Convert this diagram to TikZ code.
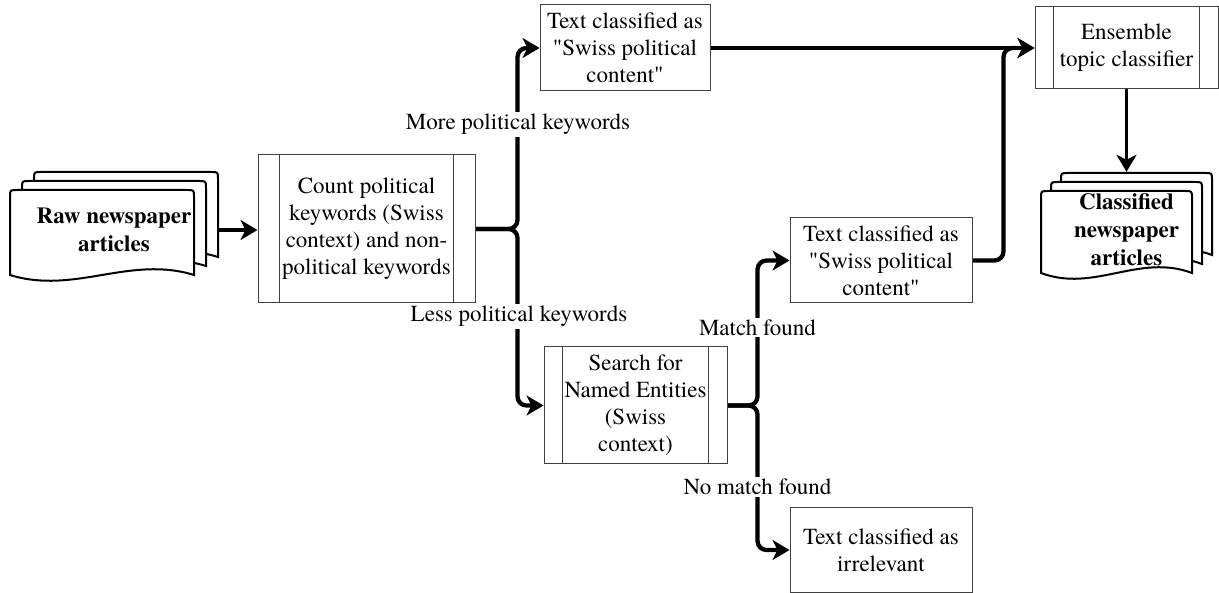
\documentclass[tikz,border=0pt]{standalone}
\usepackage{fontspec}
\setmainfont{texgyretermes}[Extension=.otf, UprightFont=*-regular, BoldFont=*-bold, ItalicFont=*-italic, BoldItalicFont=*-bolditalic]
\newfontfamily\tnr{texgyretermes}[Extension=.otf, UprightFont=*-regular, BoldFont=*-bold, ItalicFont=*-italic, BoldItalicFont=*-bolditalic]
\usetikzlibrary{arrows.meta,calc}
\pgfdeclarelayer{bg}
\pgfdeclarelayer{mid}
\pgfsetlayers{bg,mid,main}
\tikzset{
 box/.style={draw=black!75, line width=1pt, fill=white, inner sep=0pt, align=center, font=\tnr\fontsize{23}{27}\selectfont},
 proc/.style={box, path picture={\draw[black!75, line width=1pt]
   ($(path picture bounding box.north west)!0.1!(path picture bounding box.north east)$) -- ($(path picture bounding box.south west)!0.1!(path picture bounding box.south east)$)
   ($(path picture bounding box.north west)!0.9!(path picture bounding box.north east)$) -- ($(path picture bounding box.south west)!0.9!(path picture bounding box.south east)$);}},
 conn/.style={line width=4.3pt, rounded corners=9pt, -{Stealth[length=17pt,width=20pt,inset=5pt]}},
 lbl/.style={fill=white, inner xsep=1pt, inner ysep=2pt, font=\tnr\fontsize{23}{27}\selectfont},
 docline/.style={draw=black, line width=2pt, fill=white},
 doctext/.style={font=\tnr\fontsize{23}{28}\selectfont\bfseries, align=center, inner sep=0pt},
}
\newcommand\docshp[4]{%
 \draw[docline] ({#1},{#2+#4}) -- ({#1},{#2+7}) .. controls ({#1},{#2}) .. ({#1+7},{#2})
  -- ({#1+#3-7},{#2}) .. controls ({#1+#3},{#2}) .. ({#1+#3},{#2+7})
  -- ({#1+#3},{#2+#4}) .. controls ({#1+0.65*#3},{#2+#4-20}) and ({#1+0.35*#3},{#2+#4+20}) .. ({#1},{#2+#4}) -- cycle;}
\begin{document}
\begin{tikzpicture}[x=1pt,y=-1pt]
\useasboundingbox (0,0) rectangle (1219,593);
% documents
\docshp{34}{172}{184}{85}
\docshp{22}{181}{184}{85}
\docshp{10}{190}{184}{85}
\docshp{1061}{173}{151}{82}
\docshp{1051}{182}{151}{82}
\docshp{1041}{191}{151}{82}
\node[doctext, minimum width=208pt, minimum height=116pt] (raw) at (114,230) {Raw newspaper\\articles};
\node[doctext, minimum width=171pt, minimum height=116pt] (cls) at (1126.5,230) {Classified\\newspaper\\articles};
% boxes
\node[proc, minimum width=217pt, minimum height=148pt] (cnt) at (366.5,229) {Count political\\keywords (Swiss\\context) and non-\\political keywords};
\node[box, minimum width=170pt, minimum height=86pt] (sw1) at (625,48) {Text classified as\\"Swiss political\\content"};
\node[proc, minimum width=183pt, minimum height=117pt] (srch) at (635.5,405.5) {Search for\\Named Entities\\(Swiss\\context)};
\node[box, minimum width=182pt, minimum height=85pt] (sw2) at (881,260.5) {Text classified as\\"Swiss political\\content"};
\node[box, minimum width=182pt, minimum height=84pt] (irr) at (881,550) {Text classified as\\irrelevant};
\node[proc, minimum width=183pt, minimum height=82pt] (ens) at (1126.5,48) {Ensemble\\topic classifier};
% connectors
\begin{pgfonlayer}{bg}
\draw[conn] (raw.east) -- (raw.east -| cnt.west);
\draw[conn] (cnt.east) -- ++(42,0) |- (sw1.west);
\draw[conn] (cnt.east) -- ++(42,0) |- (srch.west);
\draw[conn] (srch.east) -- ++(30,0) |- (sw2.west);
\draw[conn] (srch.east) -- ++(30,0) |- (irr.west);
\draw[conn] (sw1.east) -- (ens.west);
\draw[conn] (sw2.east) -- ++(31,0) |- (ens.west);
\draw[conn, line width=3pt] (ens.south) -- (cls.north);
\end{pgfonlayer}
\begin{pgfonlayer}{mid}
\node[lbl] (l1) at (518,124.5) {More political keywords};
\node[lbl] (l2) at (519,316.5) {Less political keywords};
\node[lbl] (l3) at (757.5,327.5) {Match found};
\node[lbl] (l4) at (757.5,487) {No match found};
\end{pgfonlayer}
\end{tikzpicture}
\end{document}
